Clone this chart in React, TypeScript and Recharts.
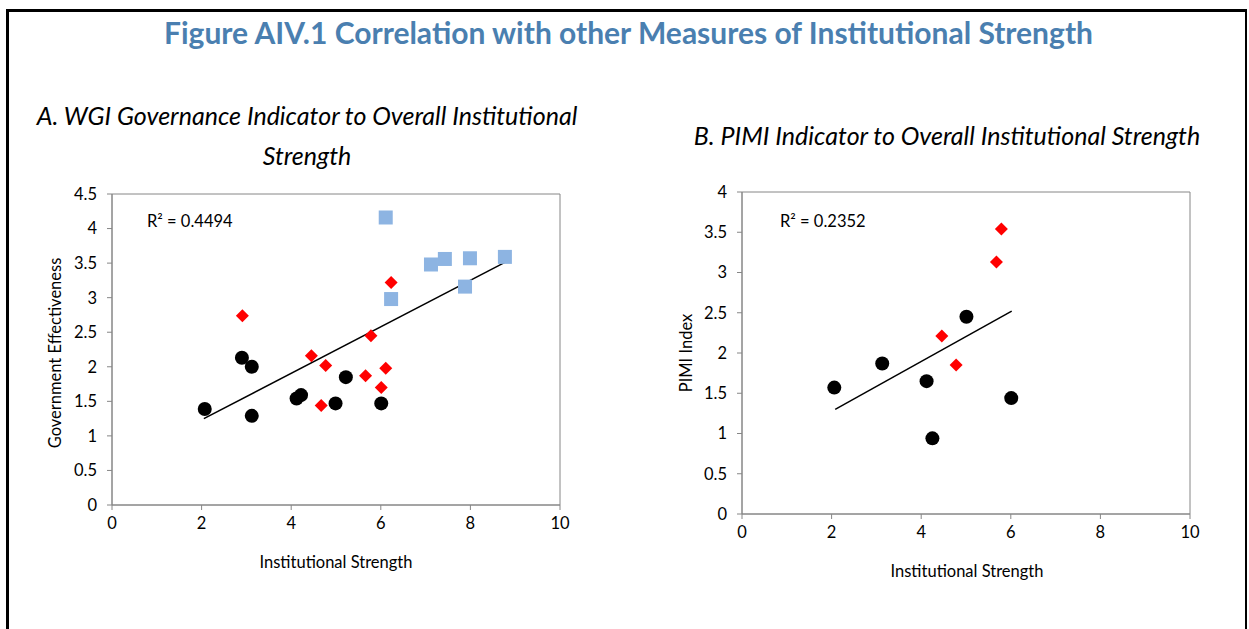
import { ScatterChart, Scatter, XAxis, YAxis, ReferenceArea } from "recharts";

// panel A: WGI government effectiveness vs institutional strength
const blackA = [
  { x: 2.07, y: 1.39 },
  { x: 2.9, y: 2.13 },
  { x: 3.12, y: 2.0 },
  { x: 3.12, y: 1.29 },
  { x: 4.12, y: 1.54 },
  { x: 4.22, y: 1.59 },
  { x: 4.99, y: 1.47 },
  { x: 5.22, y: 1.85 },
  { x: 6.01, y: 1.47 },
];
const redA = [
  { x: 2.91, y: 2.74 },
  { x: 4.45, y: 2.16 },
  { x: 4.77, y: 2.02 },
  { x: 4.67, y: 1.44 },
  { x: 5.66, y: 1.87 },
  { x: 5.78, y: 2.45 },
  { x: 6.01, y: 1.7 },
  { x: 6.11, y: 1.98 },
  { x: 6.23, y: 3.22 },
];
const blueA = [
  { x: 6.11, y: 4.16 },
  { x: 6.23, y: 2.98 },
  { x: 7.12, y: 3.48 },
  { x: 7.43, y: 3.56 },
  { x: 7.88, y: 3.16 },
  { x: 7.99, y: 3.57 },
  { x: 8.77, y: 3.59 },
];
const trendA = [
  { x: 2.05, y: 1.25 },
  { x: 8.77, y: 3.51 },
];

// panel B: PIMI index vs institutional strength
const blackB = [
  { x: 2.06, y: 1.57 },
  { x: 3.13, y: 1.87 },
  { x: 4.12, y: 1.65 },
  { x: 4.25, y: 0.94 },
  { x: 5.01, y: 2.45 },
  { x: 6.01, y: 1.44 },
];
const redB = [
  { x: 4.46, y: 2.21 },
  { x: 4.78, y: 1.85 },
  { x: 5.68, y: 3.13 },
  { x: 5.79, y: 3.54 },
];
const trendB = [
  { x: 2.08, y: 1.3 },
  { x: 6.02, y: 2.52 },
];

const xTicks = [0, 2, 4, 6, 8, 10];
const yTicksA = [0, 0.5, 1, 1.5, 2, 2.5, 3, 3.5, 4, 4.5];
const yTicksB = [0, 0.5, 1, 1.5, 2, 2.5, 3, 3.5, 4];

const FONT = "Lato, 'Open Sans', sans-serif";
const AXIS = "#868686";
const SMALL = 16.5;
const tick = { fill: "#000", fontSize: SMALL, fontFamily: FONT };

const Dot = (p: any) => <circle cx={p.cx} cy={p.cy} r={7} fill="#000" />;
const Diamond = (p: any) => (
  <path
    d={`M${p.cx},${p.cy - 6.5} L${p.cx + 6.5},${p.cy} L${p.cx},${p.cy + 6.5} L${p.cx - 6.5},${p.cy} Z`}
    fill="#ff0000"
  />
);
const Square = (p: any) => (
  <rect x={p.cx - 7} y={p.cy - 7} width={14} height={14} fill="#8db4e2" />
);
const NoDot = () => <g />;

function Panel({
  yMax,
  yTicks,
  height,
  children,
}: {
  yMax: number;
  yTicks: number[];
  height: number;
  children: React.ReactNode;
}) {
  return (
    <ScatterChart
      width={520}
      height={height}
      margin={{ top: 14, right: 20, left: 0, bottom: 5 }}
    >
      <XAxis
        type="number"
        dataKey="x"
        domain={[0, 10]}
        ticks={xTicks}
        tick={tick}
        tickSize={5}
        tickMargin={7}
        stroke={AXIS}
        height={30}
      />
      <YAxis
        type="number"
        dataKey="y"
        domain={[0, yMax]}
        ticks={yTicks}
        tick={tick}
        tickSize={5}
        tickMargin={10}
        stroke={AXIS}
        width={52}
      />
      <ReferenceArea x1={0} x2={10} y1={0} y2={yMax} fill="none" stroke={AXIS} />
      {children}
    </ScatterChart>
  );
}

const abs = (style: React.CSSProperties): React.CSSProperties => ({
  position: "absolute",
  fontFamily: FONT,
  whiteSpace: "nowrap",
  ...style,
});

export default function App() {
  return (
    <div
      style={{
        position: "absolute",
        left: 0,
        top: 0,
        width: 1249,
        height: 629,
        background: "#fff",
        overflow: "hidden",
      }}
    >
      <div
        style={{
          position: "absolute",
          left: 6,
          top: 9,
          width: 1236,
          height: 640,
          borderLeft: "3px solid #000",
          borderTop: "3px solid #000",
          borderRight: "2px solid #000",
        }}
      />
      <div
        style={abs({
          left: 0,
          width: 1257,
          top: 13,
          textAlign: "center",
          fontSize: 30,
          lineHeight: "38px",
          fontWeight: 700,
          color: "#4a7fb0",
        })}
      >
        Figure AIV.1 Correlation with other Measures of Institutional Strength
      </div>

      <div
        style={abs({
          left: 0,
          width: 614,
          top: 95,
          textAlign: "center",
          fontSize: 25,
          fontStyle: "italic",
          lineHeight: "40px",
        })}
      >
        A. WGI Governance Indicator to Overall Institutional
        <br />
        Strength
      </div>
      <div
        style={abs({
          left: 640,
          width: 614,
          top: 115,
          textAlign: "center",
          fontSize: 25,
          fontStyle: "italic",
          lineHeight: "40px",
        })}
      >
        B. PIMI Indicator to Overall Institutional Strength
      </div>

      <div style={{ position: "absolute", left: 60, top: 180 }}>
        <Panel yMax={4.5} yTicks={yTicksA} height={360}>
          <Scatter data={trendA} line={{ stroke: "#000", strokeWidth: 1.5 }} shape={NoDot} isAnimationActive={false} />
          <Scatter data={blueA} shape={Square} isAnimationActive={false} />
          <Scatter data={blackA} shape={Dot} isAnimationActive={false} />
          <Scatter data={redA} shape={Diamond} isAnimationActive={false} />
        </Panel>
      </div>
      <div style={{ position: "absolute", left: 690, top: 178 }}>
        <Panel yMax={4} yTicks={yTicksB} height={371}>
          <Scatter data={trendB} line={{ stroke: "#000", strokeWidth: 1.5 }} shape={NoDot} isAnimationActive={false} />
          <Scatter data={blackB} shape={Dot} isAnimationActive={false} />
          <Scatter data={redB} shape={Diamond} isAnimationActive={false} />
        </Panel>
      </div>

      <div style={abs({ left: 147, top: 221, fontSize: SMALL, lineHeight: "20px", transform: "translateY(-50%)" })}>
        R² = 0.4494
      </div>
      <div style={abs({ left: 780, top: 221, fontSize: SMALL, lineHeight: "20px", transform: "translateY(-50%)" })}>
        R² = 0.2352
      </div>

      <div style={abs({ left: 186, width: 300, top: 552, textAlign: "center", fontSize: SMALL, lineHeight: "20px" })}>
        Institutional Strength
      </div>
      <div style={abs({ left: 817, width: 300, top: 561, textAlign: "center", fontSize: SMALL, lineHeight: "20px" })}>
        Institutional Strength
      </div>
      <div
        style={abs({
          left: 55,
          top: 353,
          fontSize: SMALL,
          lineHeight: "20px",
          transform: "translate(-50%, -50%) rotate(-90deg)",
        })}
      >
        Government Effectiveness
      </div>
      <div
        style={abs({
          left: 686,
          top: 353,
          fontSize: SMALL,
          lineHeight: "20px",
          transform: "translate(-50%, -50%) rotate(-90deg)",
        })}
      >
        PIMI Index
      </div>
    </div>
  );
}
